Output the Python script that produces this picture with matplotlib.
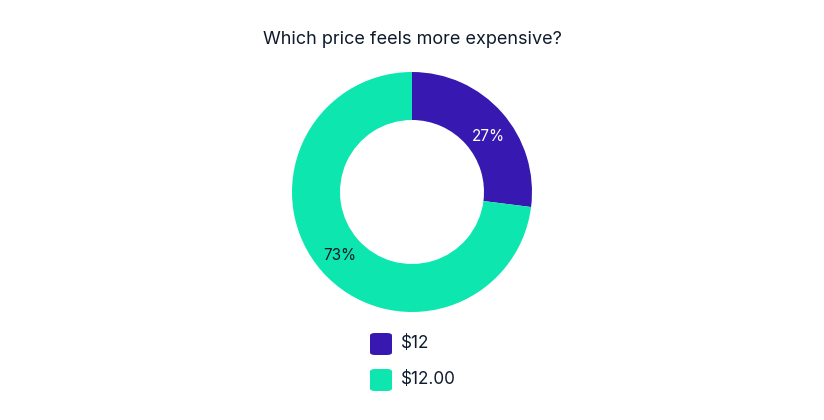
import matplotlib.pyplot as plt
from matplotlib.patches import FancyBboxPatch

plt.rcParams['font.family'] = ['Inter', 'DejaVu Sans']

labels = ['$12', '$12.00']
shares = [27, 73]
colors = ['#3719b1', '#0de6ae']
label_colors = ['white', '#0f1b2d']
text_color = '#0f1b2d'

fig = plt.figure(figsize=(8.24, 4.2), dpi=100)
ax = fig.add_axes([292 / 824, 108 / 420, 240 / 824, 240 / 420])

wedges, texts, autotexts = ax.pie(
    shares, colors=colors, startangle=90, counterclock=False,
    radius=1, wedgeprops=dict(width=0.4, linewidth=0),
    autopct='%1.0f%%', pctdistance=0.8,
    textprops=dict(fontsize=11),
)
for t, c in zip(autotexts, label_colors):
    t.set_color(c)
# first label sits a little lower in the original
autotexts[0].set_position((0.635, 0.46))
ax.set_xlim(-1, 1)
ax.set_ylim(-1, 1)
ax.set_aspect('equal')
ax.axis('off')

fig.text(0.5, 1 - 40 / 420, 'Which price feels more expensive?', ha='center',
         va='center', fontsize=13, color=text_color)

# legend drawn by hand
for i, (lab, col) in enumerate(zip(labels, colors)):
    yc = 344 + 36 * i
    box = FancyBboxPatch(((370) / 824, 1 - (yc + 11) / 420), 22 / 824, 22 / 420,
                         boxstyle='round,pad=0,rounding_size=0.006',
                         transform=fig.transFigure, facecolor=col, edgecolor='none')
    fig.patches.append(box)
    fig.text(401 / 824, 1 - yc / 420, lab, ha='left', va='center',
             fontsize=12.3, color=text_color)

fig.savefig('out.png', dpi=100)
